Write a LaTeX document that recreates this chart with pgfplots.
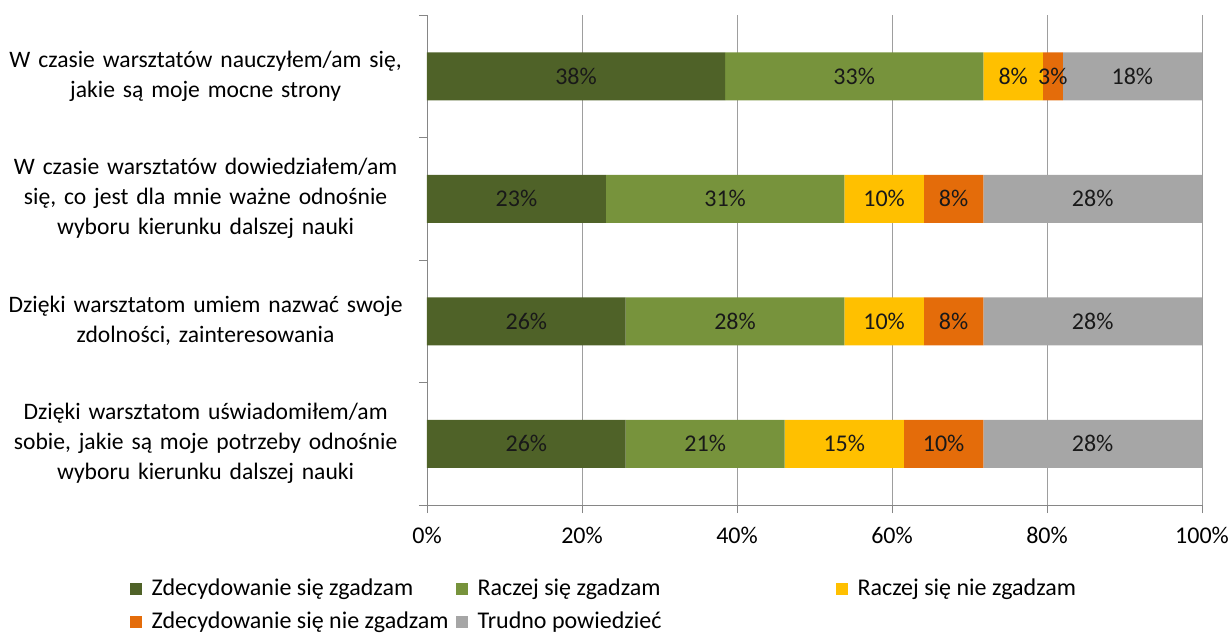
\documentclass[border=0pt]{standalone}
\usepackage{fontspec}
\setmainfont{Carlito}
\usepackage{pgfplots}
\pgfplotsset{compat=1.18}

\definecolor{c1}{HTML}{4F6228}
\definecolor{c2}{HTML}{77933C}
\definecolor{c3}{HTML}{FFC000}
\definecolor{c4}{HTML}{E46C0A}
\definecolor{c5}{HTML}{A6A6A6}
\definecolor{axgray}{HTML}{868686}

\begin{document}
\fontsize{12}{15}\selectfont
\begin{tikzpicture}
\begin{axis}[
  name=main,
  xbar stacked,
  scale only axis,
  width=387.5pt, height=245pt,
  xmin=0, xmax=100,
  ymin=0.5, ymax=4.5,
  y dir=reverse,
  bar width=24pt,
  xtick={0,20,...,100},
  xticklabel={\pgfmathprintnumber{\tick}\%},
  /pgf/number format/assume math mode=true,
  ytick={1,2,3,4},
  yticklabels={
    {W czasie warsztatów nauczyłem/am się,\\jakie są moje mocne strony},
    {W czasie warsztatów dowiedziałem/am\\się, co jest dla mnie ważne odnośnie\\wyboru kierunku dalszej nauki},
    {Dzięki warsztatom umiem nazwać swoje\\zdolności, zainteresowania},
    {Dzięki warsztatom uświadomiłem/am\\sobie, jakie są moje potrzeby odnośnie\\wyboru kierunku dalszej nauki}},
  yticklabel style={align=center, text width=205pt, font=\fontsize{11.8}{15}\selectfont},
  xticklabel style={font=\fontsize{12}{15}\selectfont, yshift=-3pt},
  ytick style={draw=none},
  minor ytick={0.5,1.5,2.5,3.5,4.5},
  minor y tick style={draw=axgray},
  minor tick length=4pt,
  major tick length=4pt,
  tick align=outside,
  xtick style={draw=axgray},
  axis x line*=bottom,
  axis y line*=left,
  axis line style={draw=axgray},
  xmajorgrids=true,
  grid style={draw=axgray!80},
  point meta=explicit,
  nodes near coords={\pgfmathprintnumber[fixed,precision=0]{\pgfplotspointmeta}\%},
  every node near coord/.append style={font=\fontsize{12}{15}\selectfont, text=black!90},
  legend columns=3,
  legend cell align=left,
  legend style={at={(-0.392,-0.133)}, anchor=north west, draw=none,
    font=\fontsize{12}{15}\selectfont,
    /tikz/every odd column/.append style={column sep=3pt},
    row sep=2.5pt},
  legend image code/.code={\fill[#1] (0pt,-3pt) rectangle (6pt,3pt);},
]
\addplot[fill=c1, draw=none] coordinates {(38.46,1) [38.46] (23.08,2) [23.08] (25.64,3) [25.64] (25.64,4) [25.64]};
\addplot[fill=c2, draw=none] coordinates {(33.33,1) [33.33] (30.77,2) [30.77] (28.21,3) [28.21] (20.51,4) [20.51]};
\addplot[fill=c3, draw=none] coordinates {(7.69,1) [7.69] (10.26,2) [10.26] (10.26,3) [10.26] (15.38,4) [15.38]};
\addplot[fill=c4, draw=none] coordinates {(2.56,1) [2.56] (7.69,2) [7.69] (7.69,3) [7.69] (10.26,4) [10.26]};
\addplot[fill=c5, draw=none] coordinates {(17.94,1) [17.94] (28.19,2) [28.19] (28.19,3) [28.19] (28.19,4) [28.19]};
\legend{\makebox[150pt][l]{Zdecydowanie się zgadzam},\makebox[177pt][l]{Raczej się zgadzam},Raczej się nie zgadzam,Zdecydowanie się nie zgadzam,Trudno powiedzieć}
\end{axis}
\pgfresetboundingbox
\path (main.south west) ++(-213.5pt,-64.5pt) rectangle ([shift={(402.5pt,252.5pt)}]main.south west);
\end{tikzpicture}
\end{document}
